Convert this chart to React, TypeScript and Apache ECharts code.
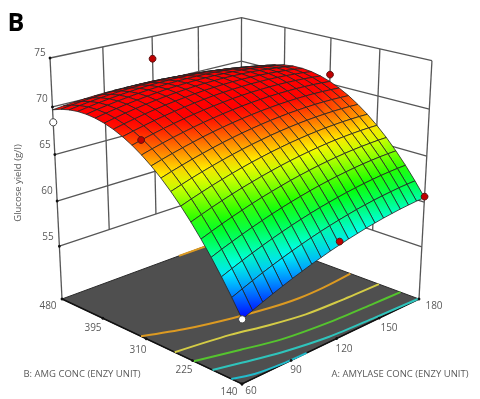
import React, { useEffect, useRef } from "react";
import * as echarts from "echarts";

const amylaseTicks = [60, 90, 120, 150, 180];
const amgTicks = [480, 395, 310, 225, 140];
const yieldTicks = [55, 60, 65, 70, 75];
const yieldFloor = 49;
const yieldTop = 75;

// Surface heights: rows run B = 480 -> 140, columns run A = 60 -> 180
const surface: number[][] = [
  [69.70,69.83,69.94,70.03,70.10,70.15,70.18,70.19,70.18,70.15,70.10,70.03,69.94,69.83,69.70,69.55,69.38,69.19,68.98,68.75,68.50],
  [70.04,70.19,70.32,70.42,70.51,70.58,70.62,70.65,70.66,70.65,70.62,70.56,70.49,70.40,70.29,70.15,70.00,69.83,69.64,69.42,69.19],
  [70.26,70.43,70.57,70.70,70.80,70.89,70.95,71.00,71.02,71.03,71.02,70.98,70.93,70.85,70.76,70.64,70.51,70.35,70.18,69.98,69.77],
  [70.38,70.56,70.73,70.87,70.99,71.09,71.18,71.24,71.28,71.30,71.31,71.29,71.25,71.19,71.12,71.02,70.90,70.76,70.61,70.43,70.23],
  [70.38,70.58,70.76,70.92,71.06,71.18,71.28,71.36,71.42,71.46,71.48,71.48,71.46,71.42,71.36,71.28,71.18,71.06,70.92,70.76,70.58],
  [70.28,70.50,70.69,70.87,71.03,71.16,71.28,71.38,71.45,71.51,71.55,71.56,71.56,71.53,71.49,71.43,71.34,71.24,71.12,70.97,70.81],
  [70.07,70.30,70.52,70.71,70.88,71.04,71.17,71.28,71.37,71.45,71.50,71.53,71.55,71.54,71.51,71.47,71.40,71.31,71.20,71.08,70.93],
  [69.75,70.00,70.23,70.44,70.63,70.80,70.94,71.07,71.18,71.27,71.34,71.39,71.42,71.43,71.42,71.39,71.33,71.26,71.17,71.06,70.93],
  [69.32,69.59,69.83,70.06,70.26,70.45,70.61,70.76,70.88,70.99,71.07,71.14,71.18,71.21,71.21,71.20,71.16,71.11,71.03,70.94,70.82],
  [68.78,69.06,69.32,69.56,69.78,69.98,70.16,70.32,70.46,70.58,70.69,70.77,70.83,70.87,70.89,70.89,70.87,70.83,70.77,70.69,70.59],
  [68.13,68.43,68.70,68.96,69.19,69.41,69.61,69.78,69.94,70.07,70.19,70.29,70.36,70.42,70.45,70.47,70.47,70.44,70.40,70.33,70.25],
  [67.37,67.68,67.97,68.24,68.49,68.73,68.94,69.13,69.30,69.45,69.58,69.69,69.78,69.85,69.90,69.94,69.95,69.94,69.91,69.86,69.79],
  [66.50,66.83,67.13,67.42,67.68,67.93,68.16,68.36,68.55,68.71,68.86,68.99,69.09,69.18,69.24,69.29,69.32,69.32,69.31,69.27,69.22],
  [65.52,65.86,66.18,66.48,66.76,67.02,67.26,67.48,67.68,67.86,68.03,68.17,68.29,68.39,68.47,68.53,68.57,68.59,68.59,68.57,68.53],
  [64.43,64.79,65.12,65.44,65.73,66.01,66.26,66.50,66.71,66.91,67.08,67.24,67.37,67.49,67.58,67.66,67.71,67.75,67.76,67.76,67.73],
  [63.23,63.60,63.95,64.28,64.59,64.88,65.14,65.39,65.62,65.83,66.02,66.19,66.34,66.47,66.58,66.67,66.73,66.78,66.81,66.82,66.81],
  [61.92,62.30,62.67,63.01,63.33,63.64,63.92,64.18,64.42,64.65,64.85,65.03,65.20,65.34,65.46,65.57,65.65,65.71,65.75,65.78,65.78],
  [60.51,60.91,61.28,61.64,61.97,62.29,62.59,62.86,63.12,63.35,63.57,63.77,63.94,64.10,64.23,64.35,64.45,64.52,64.58,64.61,64.63],
  [58.98,59.39,59.78,60.15,60.50,60.83,61.14,61.43,61.70,61.95,62.18,62.38,62.57,62.74,62.89,63.02,63.13,63.22,63.29,63.34,63.37],
  [57.35,57.77,58.17,58.56,58.92,59.26,59.58,59.88,60.17,60.43,60.67,60.89,61.09,61.28,61.44,61.58,61.70,61.80,61.89,61.95,61.99],
  [55.60,56.04,56.45,56.85,57.22,57.58,57.91,58.23,58.52,58.80,59.05,59.29,59.50,59.70,59.87,60.03,60.16,60.28,60.37,60.45,60.50],
];

// Floor contours as [A, B] pairs
const contourOrange = [[60,320],[80,295],[102,276],[123,263],[140,257],[158,257],[180,262]];
const contourOrangeBack = [[135,480],[172,478]];
const contourYellow = [[60,257],[89,243],[108,228],[129,216],[152,212],[180,210]];
const contourGreen = [[60,223],[82,204],[102,188],[131,178],[161,174],[180,172]];
const contourCyan = [[60,190],[73,179],[93,163],[119,150],[149,145],[180,141]];
const contourCyanLow = [[60,158],[70,147],[88,141],[100,140]];
const contours = [contourOrange, contourOrangeBack, contourYellow, contourGreen, contourCyan, contourCyanLow];
const contourColors = ["#dc9a22", "#dc9a22", "#d4cc46", "#55c42e", "#2fc4bc", "#22bccc"];

// Design points as [A, B, yield]
const pointsAbove = [[120,480,72.6],[60,310,69.6],[180,310,71.0],[120,140,59.4],[180,140,60.6]];
const pointsBelow = [[60,480,68.4],[60,140,55.6]];

const heatStops: [number, number[]][] = [
  [55.6, [0, 0, 255]],
  [59.4, [0, 255, 255]],
  [62.8, [0, 255, 0]],
  [66.4, [255, 255, 0]],
  [70.0, [255, 0, 0]],
  [72.0, [255, 0, 0]],
];

function heat(z: number): string {
  for (let k = 1; k < heatStops.length; k++) {
    if (z <= heatStops[k][0]) {
      const [z0, c0] = heatStops[k - 1];
      const [z1, c1] = heatStops[k];
      const t = Math.max(0, (z - z0) / (z1 - z0));
      const c = c0.map((v, n) => Math.round(v + (c1[n] - v) * t));
      return `rgb(${c[0]},${c[1]},${c[2]})`;
    }
  }
  return "rgb(255,0,0)";
}

// Perspective camera of the cube
function project(A: number, B: number, z: number): number[] {
  const a = (A - 60) / 120;
  const v = (B - 140) / 340;
  const h = (z - yieldFloor) / (yieldTop - yieldFloor);
  const w = 1 + 0.15 * a + 0.138 * v - 0.0747 * h;
  return [
    (242 + 239.85 * a - 171.44 * v - 17.38 * h) / w,
    (384 - 40.15 * a - 43.74 * v - 278.6 * h) / w,
  ];
}

const N = surface.length - 1;
const cellA = (i: number) => 60 + (120 * i) / N;
const cellB = (j: number) => 480 - (340 * j) / N;

function App() {
  const ref = useRef<HTMLDivElement>(null);
  useEffect(() => {
    document.body.style.margin = "0";
    const chart = echarts.init(ref.current!, undefined, { renderer: "svg" });

    const wall = { stroke: "#565656", lineWidth: 1.3, fill: "none" };
    const walls: any[] = [];
    const seg = (p: number[][], style: any = wall) =>
      walls.push({ type: "polyline", shape: { points: p }, style });
    yieldTicks.forEach((z) => {
      seg([project(60, 480, z), project(180, 480, z), project(180, 140, z)]);
    });
    [90, 120, 150].forEach((A) => seg([project(A, 480, 55), project(A, 480, 75)]));
    [395, 310, 225].forEach((B) => seg([project(180, B, 55), project(180, B, 75)]));
    seg([project(60, 480, yieldFloor), project(60, 480, 75)]);
    seg([project(180, 480, yieldFloor), project(180, 480, 75)]);
    seg([project(180, 140, yieldFloor), project(180, 140, 75)]);

    const cells: number[][] = [];
    for (let i = N - 1; i >= 0; i--) {
      for (let j = 0; j < N; j++) {
        cells.push([i, j, surface[j][i], surface[j][i + 1], surface[j + 1][i + 1], surface[j + 1][i]]);
      }
    }

    const floorPts = [project(60, 140, yieldFloor), project(180, 140, yieldFloor), project(180, 480, yieldFloor), project(60, 480, yieldFloor)];

    const dot = (p: number[], r: number, fill: string, stroke: string, lw = 1) => ({
      type: "circle", shape: { cx: p[0], cy: p[1], r }, style: { fill, stroke, lineWidth: lw },
    });

    const labelStyle = { fill: "#5a5a5a", fontFamily: "Open Sans", fontSize: 10 };
    const text = (s: string, x: number, y: number, extra: any = {}) => ({
      type: "text", x, y, silent: true,
      style: { text: s, textAlign: "center", textVerticalAlign: "middle", ...labelStyle, ...extra },
    });
    const yLabelPos = [[48, 236], [47, 190], [45, 144], [42, 98], [40, 52]];
    const bLabelPos = [[48, 305], [93, 327], [138, 349], [184, 369], [229, 391]];
    const aLabelPos = [[251, 390], [296, 369], [344, 348], [389, 327], [434, 305]];

    chart.setOption({
      animation: false,
      backgroundColor: "#fff",
      series: [
        {
          type: "custom", coordinateSystem: "none", silent: true, z: 1, data: [0],
          renderItem: () => ({ type: "group", children: walls }),
        },
        {
          type: "custom", coordinateSystem: "none", silent: true, z: 2, data: [0],
          renderItem: () => ({
            type: "group",
            children: [
              { type: "polygon", shape: { points: floorPts }, style: { fill: "#4f4f4f", stroke: "#2a2a2a", lineWidth: 1 } },
              { type: "polyline", shape: { points: [floorPts[3], floorPts[0], floorPts[1]] }, style: { fill: "none", stroke: "#111", lineWidth: 1.4 } },
            ],
          }),
        },
        {
          type: "custom", coordinateSystem: "none", silent: true, z: 3, data: contours.map((_, k) => k),
          renderItem: (params: any) => {
            const k = params.dataIndex;
            return {
              type: "polyline",
              shape: { points: contours[k].map(([A, B]) => project(A, B, yieldFloor)), smooth: 0.3 },
              style: { fill: "none", stroke: contourColors[k], lineWidth: 2 },
            };
          },
        },
        {
          type: "custom", coordinateSystem: "none", silent: true, z: 4, data: cells,
          renderItem: (params: any, api: any) => {
            const i = api.value(0), j = api.value(1);
            const zs = [api.value(2), api.value(3), api.value(4), api.value(5)];
            const pts = [
              project(cellA(i), cellB(j), zs[0]),
              project(cellA(i + 1), cellB(j), zs[1]),
              project(cellA(i + 1), cellB(j + 1), zs[2]),
              project(cellA(i), cellB(j + 1), zs[3]),
            ];
            let lo = 0, hi = 0;
            zs.forEach((z, n) => { if (z < zs[lo]) lo = n; if (z > zs[hi]) hi = n; });
            return {
              type: "polygon",
              shape: { points: pts },
              style: {
                fill: {
                  type: "linear", global: true,
                  x: pts[lo][0], y: pts[lo][1], x2: pts[hi][0], y2: pts[hi][1],
                  colorStops: [
                    { offset: 0, color: heat(zs[lo]) },
                    { offset: 1, color: heat(zs[hi]) },
                  ],
                },
                stroke: "rgba(35,35,35,0.8)",
                lineWidth: 1,
              },
            };
          },
        },
        {
          type: "custom", coordinateSystem: "none", silent: true, z: 5, data: [0],
          renderItem: () => ({
            type: "group",
            children: [
              ...pointsAbove.map(([A, B, z]) => dot(project(A, B, z), 3.4, "#c00000", "#5a1010")),
              ...pointsBelow.map(([A, B, z]) => dot(project(A, B, z), 3.6, "#ffffff", "#444444")),
              ...yieldTicks.map((z) => dot(project(60, 480, z), 1.4, "#111", "#111", 0)),
              ...amgTicks.map((B) => dot(project(60, B, yieldFloor), 1.4, "#111", "#111", 0)),
              ...amylaseTicks.map((A) => dot(project(A, 140, yieldFloor), 1.4, "#111", "#111", 0)),
            ],
          }),
        },
      ],
      graphic: [
        text("B", 16, 21, { fontFamily: "Open Sans", fontSize: 25, fontWeight: "bold", fill: "#000" }),
        ...yieldTicks.map((t, n) => text(String(t), yLabelPos[n][0], yLabelPos[n][1])),
        ...amgTicks.map((t, n) => text(String(t), bLabelPos[n][0], bLabelPos[n][1])),
        ...amylaseTicks.map((t, n) => text(String(t), aLabelPos[n][0], aLabelPos[n][1])),
        text("B: AMG CONC (ENZY UNIT)", 82, 373, { fontSize: 9.5 }),
        text("A: AMYLASE CONC (ENZY UNIT)", 400, 373, { fontSize: 9.5 }),
        { ...text("Glucose yield (g/l)", 17, 183, { fontSize: 9.5 }), rotation: Math.PI / 2 },
      ],
    });
    return () => chart.dispose();
  }, []);
  return (
    <div
      ref={ref}
      style={{ position: "fixed", left: 0, top: 0, width: 480, height: 399, filter: "blur(0.45px)" }}
    />
  );
}

export default App;
